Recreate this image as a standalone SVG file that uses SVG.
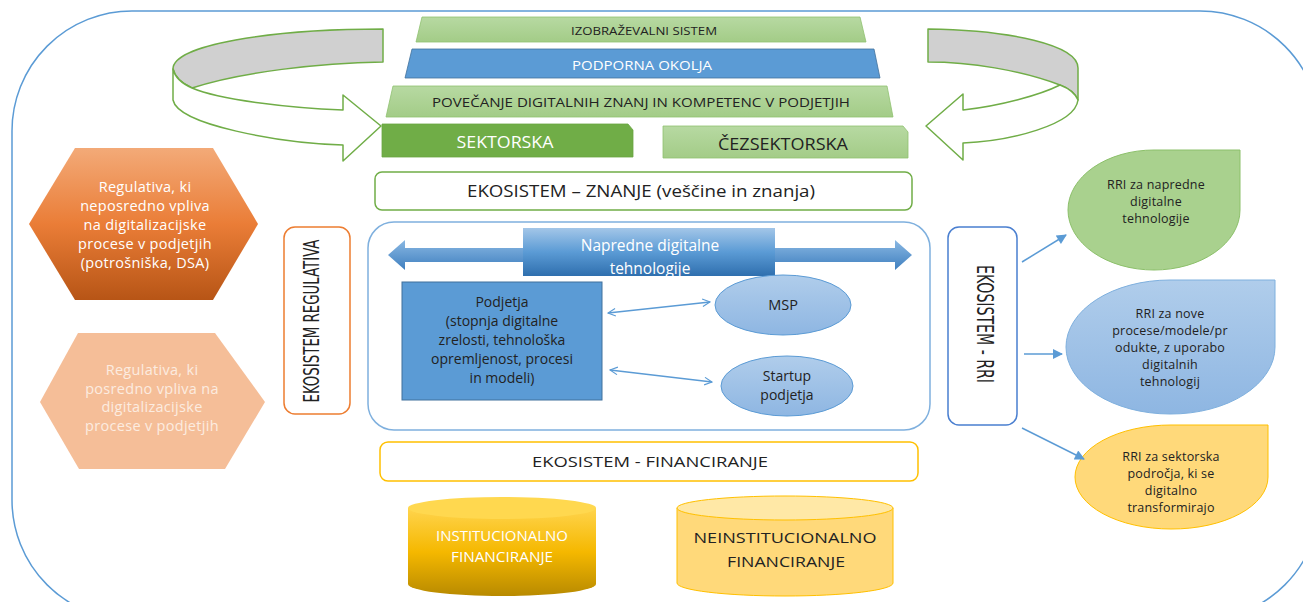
<svg xmlns="http://www.w3.org/2000/svg" width="1303" height="602" viewBox="0 0 1303 602">
<defs>
<style>
.t{font-family:"Open Sans","Liberation Sans",sans-serif;fill:#222;text-anchor:middle}
.w{fill:#fff}
.cond{font-family:"DejaVu Sans Condensed","DejaVu Sans",sans-serif;font-stretch:condensed;fill:#222;text-anchor:middle}
.ring{stroke:#70ad47;stroke-width:1.5;stroke-linejoin:round}
.conn{stroke:#5b9bd5;stroke-width:1.5;fill:none}
.hx{font-size:14.5px;letter-spacing:0.3px}
.rr{font-size:12.5px;letter-spacing:0.2px}
</style>
<linearGradient id="gHex" x1="0" y1="0" x2="0" y2="1">
<stop offset="0" stop-color="#f3aa78"/><stop offset="0.5" stop-color="#ea7d37"/><stop offset="1" stop-color="#b75516"/>
</linearGradient>
<linearGradient id="gLab" x1="0" y1="0" x2="0" y2="1">
<stop offset="0" stop-color="#a3c6e8"/><stop offset="0.5" stop-color="#5b9bd5"/><stop offset="1" stop-color="#2f6fae"/>
</linearGradient>
<linearGradient id="gArr" x1="0" y1="0" x2="0" y2="1">
<stop offset="0" stop-color="#8ab8e3"/><stop offset="1" stop-color="#3f7fbf"/>
</linearGradient>
<linearGradient id="gCyl" x1="0" y1="0" x2="0" y2="1">
<stop offset="0" stop-color="#ffd44d"/><stop offset="0.5" stop-color="#f5b800"/><stop offset="1" stop-color="#b88a00"/>
</linearGradient>
<linearGradient id="gBlue" x1="0" y1="0" x2="0" y2="1">
<stop offset="0" stop-color="#b0cdeb"/><stop offset="1" stop-color="#8eb6e2"/>
</linearGradient>
<linearGradient id="gGreen" x1="0" y1="0" x2="0" y2="1">
<stop offset="0" stop-color="#b7d9a2"/><stop offset="1" stop-color="#a3cc87"/>
</linearGradient>
<marker id="open" viewBox="0 0 12 12" refX="11" refY="6" markerWidth="9" markerHeight="9" markerUnits="userSpaceOnUse" orient="auto-start-reverse">
<polyline points="1,1 11,6 1,11" fill="none" stroke="#5b9bd5" stroke-width="1.5"/>
</marker>
<marker id="solid" viewBox="0 0 10 10" refX="9" refY="5" markerWidth="12" markerHeight="10" markerUnits="userSpaceOnUse" orient="auto">
<path d="M0,0 L10,5 L0,10 Z" fill="#5b9bd5"/>
</marker>
<clipPath id="clipLab"><rect x="523" y="228" width="252" height="48"/></clipPath>
</defs>

<path id="frame" d="M132,11 H1200 A120,120 0 0 1 1320,131 V500 A120,120 0 0 1 1200,620 H132 A120,120 0 0 1 12,500 V131 A120,120 0 0 1 132,11 Z" fill="#fff" stroke="#5b9bd5" stroke-width="1.5"/>

<g id="ring-left">
<path class="ring" d="M383,29 C270,29 173,45 173,69 C175,78 183,84 192,88 C240,72 320,63 383,62 Z" fill="#d0d0d0"/>
<path class="ring" d="M173,69 L173,100 C178,125 280,143 343,145 L343,161 L381,126 L343,95 L343,110 C290,108 220,100 192,88 C183,84 175,78 173,69 Z" fill="#fff"/>
</g>
<g id="ring-right">
<path class="ring" d="M928,29 C1010,30 1078,45 1078,68 L1078,100 C1075,93 1068,88 1060,85 C1020,70 970,62 928,62 Z" fill="#d0d0d0"/>
<path class="ring" d="M1078,100 C1075,125 1010,141 963,143 L963,160 L926,126 L963,94 L963,110 C1000,106 1040,95 1060,85 C1068,88 1075,93 1078,100 Z" fill="#fff"/>
</g>

<g id="izobrazevalni">
<polygon points="422,17 860,17 866,42 416,42" fill="url(#gGreen)" stroke="#8fc270" stroke-width="0.8"/>
<text class="t" x="644" y="35" font-size="11.5" textLength="146" lengthAdjust="spacingAndGlyphs">IZOBRAŽEVALNI SISTEM</text>
</g>
<g id="podporna">
<polygon points="412,49 874,49 880,78 405,78" fill="#5b9bd5" stroke="#41719c" stroke-width="0.8"/>
<text class="t w" x="642" y="70" font-size="13.5" textLength="140" lengthAdjust="spacingAndGlyphs">PODPORNA OKOLJA</text>
</g>
<g id="povecanje">
<polygon points="393,86 887,86 893,117 386,117" fill="url(#gGreen)" stroke="#8fc270" stroke-width="0.8"/>
<text class="t" x="641" y="107" font-size="13.5" textLength="418" lengthAdjust="spacingAndGlyphs">POVEČANJE DIGITALNIH ZNANJ IN KOMPETENC V PODJETJIH</text>
</g>
<g id="sektorska">
<path d="M382,124 H628 L633,130 V157 H382 Z" fill="#70ad47" stroke="#6aa443" stroke-width="0.8"/>
<text class="t w" x="505" y="148" font-size="15.5" textLength="97" lengthAdjust="spacingAndGlyphs">SEKTORSKA</text>
</g>
<g id="cezsektorska">
<path d="M663,126 H903 L908,132 V158 H663 Z" fill="url(#gGreen)" stroke="#8fc270" stroke-width="0.8"/>
<text class="t" x="783" y="150" font-size="15.5" textLength="130" lengthAdjust="spacingAndGlyphs">ČEZSEKTORSKA</text>
</g>
<g id="znanje">
<rect x="375" y="172" width="537" height="38" rx="7" fill="#fff" stroke="#70ad47" stroke-width="1.5"/>
<text class="t" x="641" y="197" font-size="16" textLength="348" lengthAdjust="spacingAndGlyphs">EKOSISTEM – ZNANJE (veščine in znanja)</text>
</g>

<g id="hex-neposredno">
<polygon points="75,148 213,148 258,224 213,300 75,300 29,224" fill="url(#gHex)"/>
<text class="t w hx"><tspan x="145" y="192">Regulativa, ki</tspan><tspan x="145" y="211">neposredno vpliva</tspan><tspan x="145" y="230">na digitalizacijske</tspan><tspan x="145" y="249">procese v podjetjih</tspan><tspan x="145" y="268">(potrošniška, DSA)</tspan></text>
</g>
<g id="hex-posredno">
<polygon points="78,333 215,333 265,402 225,469 79,469 40,402" fill="#f5be98"/>
<text class="t hx" style="fill:#fcece0"><tspan x="152" y="375">Regulativa, ki</tspan><tspan x="152" y="394">posredno vpliva na</tspan><tspan x="152" y="412">digitalizacijske</tspan><tspan x="152" y="431">procese v podjetjih</tspan></text>
</g>
<g id="ekosistem-regulativa">
<rect x="284" y="227" width="66" height="187" rx="11" fill="#fff" stroke="#ed7d31" stroke-width="1.5"/>
<text class="cond" transform="translate(319,321) rotate(-90)" font-size="21" textLength="163" lengthAdjust="spacingAndGlyphs">EKOSISTEM REGULATIVA</text>
</g>

<g id="central">
<rect x="368" y="222" width="562" height="208" rx="26" fill="#fff" stroke="#7fb0de" stroke-width="1.5"/>
</g>
<g id="napredne">
<polygon points="388,255 405,240 405,248 895,248 895,240 912,255 895,270 895,262 405,262 405,270" fill="url(#gArr)"/>
<rect x="523" y="228" width="252" height="48" fill="url(#gLab)"/>
<g clip-path="url(#clipLab)">
<text class="t w" font-size="15.5"><tspan x="650" y="251">Napredne digitalne</tspan><tspan x="650" y="274">tehnologije</tspan></text>
</g>
</g>
<g id="podjetja">
<rect x="402" y="282" width="200" height="118" fill="#5b9bd5" stroke="#41719c" stroke-width="1"/>
<text class="t" font-size="14"><tspan x="502" y="307">Podjetja</tspan><tspan x="502" y="326">(stopnja digitalne</tspan><tspan x="502" y="345">zrelosti, tehnološka</tspan><tspan x="502" y="364">opremljenost, procesi</tspan><tspan x="502" y="383">in modeli)</tspan></text>
</g>
<g id="msp">
<ellipse cx="783" cy="305" rx="68" ry="30" fill="url(#gBlue)" stroke="#5b9bd5" stroke-width="1"/>
<text class="t" x="783" y="310" font-size="14.5">MSP</text>
</g>
<g id="startup">
<ellipse cx="787" cy="386" rx="66" ry="30" fill="url(#gBlue)" stroke="#5b9bd5" stroke-width="1"/>
<text class="t" font-size="14"><tspan x="787" y="381">Startup</tspan><tspan x="787" y="400">podjetja</tspan></text>
</g>

<g id="ekosistem-rri">
<rect x="948" y="227" width="69" height="198" rx="11" fill="#fff" stroke="#4a7fd0" stroke-width="1.5"/>
<text class="cond" transform="translate(977,324) rotate(90)" font-size="23" textLength="118" lengthAdjust="spacingAndGlyphs">EKOSISTEM - RRI</text>
</g>
<g id="rri-napredne">
<path d="M1154,150 H1240 V210 A86,60 0 0 1 1154,270 A86,60 0 0 1 1068,210 A86,60 0 0 1 1154,150 Z" fill="#a9d18e" stroke="#8cc06a" stroke-width="1"/>
<text class="t rr"><tspan x="1156" y="189">RRI za napredne</tspan><tspan x="1156" y="206">digitalne</tspan><tspan x="1156" y="223">tehnologije</tspan></text>
</g>
<g id="rri-nove">
<path d="M1170,280 H1275 V347 A104,67 0 0 1 1170,414 A104,67 0 0 1 1066,347 A104,67 0 0 1 1170,280 Z" fill="url(#gBlue)" stroke="#7fb0de" stroke-width="1"/>
<text class="t rr"><tspan x="1170" y="318">RRI za nove</tspan><tspan x="1170" y="335">procese/modele/pr</tspan><tspan x="1170" y="352">odukte, z uporabo</tspan><tspan x="1170" y="369">digitalnih</tspan><tspan x="1170" y="386">tehnologij</tspan></text>
</g>
<g id="rri-sektorska">
<path d="M1171,425 H1268 V477 A96,52 0 0 1 1171,529 A96,52 0 0 1 1075,477 A96,52 0 0 1 1171,425 Z" fill="#ffd97a" stroke="#ffc000" stroke-width="1"/>
<text class="t rr"><tspan x="1171" y="461">RRI za sektorska</tspan><tspan x="1171" y="478">področja, ki se</tspan><tspan x="1171" y="495">digitalno</tspan><tspan x="1171" y="512">transformirajo</tspan></text>
</g>

<g id="financiranje">
<rect x="380" y="442" width="538" height="39" rx="8" fill="#fff" stroke="#ffc000" stroke-width="1.5"/>
<text class="t" x="650" y="467" font-size="15" textLength="236" lengthAdjust="spacingAndGlyphs">EKOSISTEM - FINANCIRANJE</text>
</g>
<g id="institucionalno">
<path d="M408,508 V584 A94,12 0 0 0 596,584 V508 Z" fill="url(#gCyl)"/>
<ellipse cx="502" cy="508" rx="94" ry="11" fill="#ffd84f"/>
<text class="t w" x="502" y="541" font-size="14" textLength="132" lengthAdjust="spacingAndGlyphs">INSTITUCIONALNO</text>
<text class="t w" x="502" y="562" font-size="14" textLength="102" lengthAdjust="spacingAndGlyphs">FINANCIRANJE</text>
</g>
<g id="neinstitucionalno">
<path d="M677,508 V583 A108,13 0 0 0 893,583 V508" fill="#ffd97a" stroke="#ffc000" stroke-width="1"/>
<ellipse cx="785" cy="508" rx="108" ry="12" fill="#ffe8a6" stroke="#ffc000" stroke-width="1"/>
<text class="t" x="785" y="543" font-size="15" textLength="183" lengthAdjust="spacingAndGlyphs">NEINSTITUCIONALNO</text>
<text class="t" x="786" y="567" font-size="15" textLength="118" lengthAdjust="spacingAndGlyphs">FINANCIRANJE</text>
</g>

<g id="connectors">
<line class="conn" x1="608" y1="313" x2="710" y2="302" marker-start="url(#open)" marker-end="url(#open)"/>
<line class="conn" x1="610" y1="370" x2="712" y2="382" marker-start="url(#open)" marker-end="url(#open)"/>
<line class="conn" x1="1022" y1="262" x2="1066" y2="235" marker-end="url(#solid)"/>
<line class="conn" x1="1024" y1="354" x2="1062" y2="354" marker-end="url(#solid)"/>
<line class="conn" x1="1022" y1="428" x2="1084" y2="459" marker-end="url(#solid)"/>
</g>
</svg>
